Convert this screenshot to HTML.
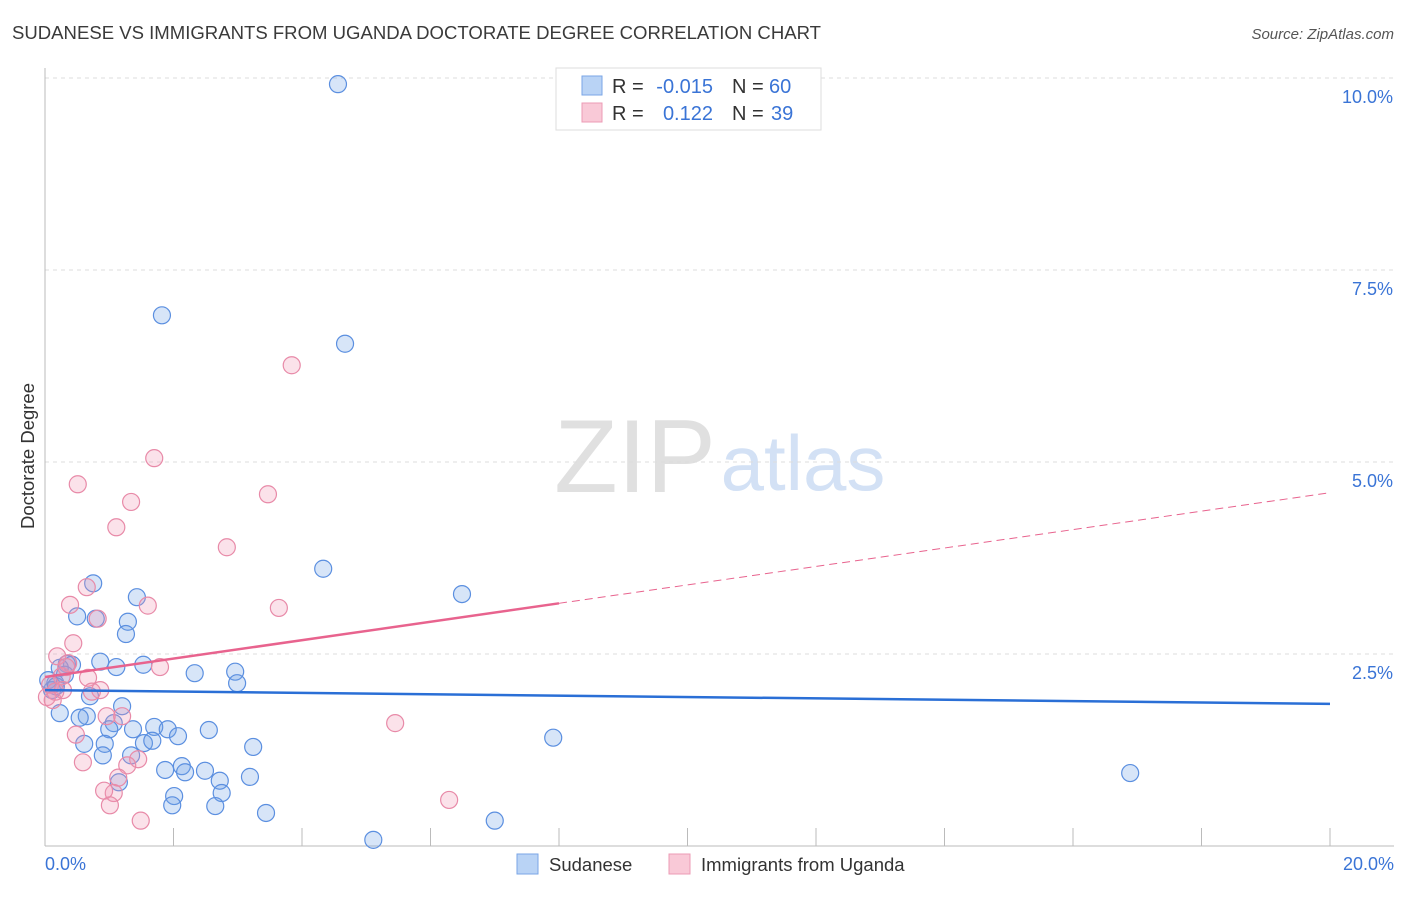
<!DOCTYPE html>
<html><head><meta charset="utf-8">
<style>
body{margin:0;background:#fff;font-family:"Liberation Sans",sans-serif;}
svg text{font-family:"Liberation Sans",sans-serif;}
</style></head>
<body>
<svg id="chart" width="1406" height="892" viewBox="0 0 1406 892" xmlns="http://www.w3.org/2000/svg">
<text x="12" y="39" font-size="18" fill="#3a3a3a" textLength="809" lengthAdjust="spacingAndGlyphs">SUDANESE VS IMMIGRANTS FROM UGANDA DOCTORATE DEGREE CORRELATION CHART</text>
<text x="1394" y="39" font-size="15" fill="#555" text-anchor="end" font-style="italic">Source: ZipAtlas.com</text>
<g>
<text x="635" y="492" font-size="104" fill="#e0e0e0" text-anchor="middle" font-family="Liberation Serif, serif">ZIP</text>
<text x="803" y="490" font-size="78" fill="#d3e1f5" text-anchor="middle">atlas</text>
</g>
<g id="grid"></g>
<g id="axes"></g>
<g id="marks"></g>
<g font-size="20">
<rect x="556" y="68" width="265" height="62" fill="#fff" stroke="#ddd"/>
<rect x="582" y="76" width="20" height="19" fill="#b9d3f5" stroke="#7aa6e6"/>
<rect x="582" y="103" width="20" height="19" fill="#f9c9d7" stroke="#ec9bb5"/>
<text x="612" y="93" fill="#333">R =</text>
<text x="713" y="93" fill="#3a74d6" text-anchor="end">-0.015</text>
<text x="732" y="93" fill="#333">N =</text>
<text x="769" y="93" fill="#3a74d6">60</text>
<text x="612" y="120" fill="#333">R =</text>
<text x="713" y="120" fill="#3a74d6" text-anchor="end">0.122</text>
<text x="732" y="120" fill="#333">N =</text>
<text x="771" y="120" fill="#3a74d6">39</text>
</g>
<g>
<rect x="517" y="854" width="21" height="20" fill="#b9d3f5" stroke="#7aa6e6"/>
<text x="549" y="871" font-size="18.5" fill="#333">Sudanese</text>
<rect x="669" y="854" width="21" height="20" fill="#f9c9d7" stroke="#ec9bb5"/>
<text x="701" y="871" font-size="18.5" fill="#333">Immigrants from Uganda</text>
</g>
<text transform="translate(34,456) rotate(-90)" font-size="18.5" fill="#333" text-anchor="middle">Doctorate Degree</text>
</svg>
<script>
const yTicks=[2.5,5.0,7.5,10.0];
const yTickLabels=["2.5%","5.0%","7.5%","10.0%"];
const xTickLabels=["0.0%","20.0%"];
const sudX=[4.56,1.82,4.67,4.33,6.49,0.75,1.43,0.50,0.79,1.29,1.26,0.34,0.42,0.86,1.11,1.53,2.33,2.96,2.99,0.16,0.11,0.70,1.20,0.23,0.65,0.54,1.07,1.00,1.37,1.70,1.91,2.07,2.55,7.91,0.61,0.93,1.54,1.67,3.24,0.90,1.34,1.87,2.13,2.18,2.49,2.72,3.19,2.75,1.15,2.01,1.98,2.65,3.44,5.11,7.00,16.89,0.23,0.05,0.31,0.17];
const sudY=[9.92,6.91,6.54,3.61,3.28,3.42,3.24,2.99,2.96,2.92,2.76,2.37,2.36,2.40,2.33,2.36,2.25,2.27,2.12,2.12,2.03,1.95,1.82,1.73,1.69,1.67,1.60,1.52,1.52,1.55,1.52,1.43,1.51,1.41,1.33,1.33,1.34,1.37,1.29,1.18,1.18,0.99,1.04,0.96,0.98,0.85,0.90,0.69,0.83,0.65,0.53,0.52,0.43,0.08,0.33,0.95,2.32,2.16,2.23,2.08];
const ugX=[3.84,1.70,0.51,3.47,1.34,1.11,2.83,0.65,0.39,1.60,0.82,3.64,0.44,0.19,0.36,1.79,0.67,0.26,0.08,0.86,0.73,0.03,0.16,0.33,1.20,0.96,5.45,0.48,0.59,1.45,1.28,1.14,1.07,0.92,1.01,6.29,1.49,0.12,0.28];
const ugY=[6.26,5.05,4.71,4.58,4.48,4.15,3.89,3.37,3.14,3.13,2.96,3.10,2.64,2.47,2.38,2.33,2.19,2.21,2.10,2.03,2.01,1.94,2.01,2.33,1.69,1.69,1.60,1.45,1.09,1.13,1.05,0.89,0.69,0.72,0.53,0.60,0.33,1.90,2.03];
const sudTrend=[2.03,1.85];
const ugTrend=[2.20,4.60];
const ugSolidEnd=8.0;

const NS="http://www.w3.org/2000/svg";
const X0=45,X1=1330,Y0=846,Y1=78;
const xs=v=>X0+(v/20)*(X1-X0);
const ys=v=>Y0-(v/10)*(Y0-Y1);
function mk(tag,attrs,parent){const e=document.createElementNS(NS,tag);for(const k in attrs)e.setAttribute(k,attrs[k]);parent.appendChild(e);return e;}
const grid=document.getElementById('grid'),axes=document.getElementById('axes'),marks=document.getElementById('marks');
yTicks.forEach((t,i)=>{
  const l=mk('line',{x1:X0,x2:1394,y1:ys(t),y2:ys(t),stroke:'#ddd','stroke-dasharray':'4,4'},grid);
  
  
  const tx=mk('text',{x:1393,y:ys(t)+25,'font-size':18,fill:'#3a74d6','text-anchor':'end'},grid);
  tx.textContent=yTickLabels[i];
  
  
});
const ya=mk('line',{x1:X0,x2:X0,y1:68,y2:Y0,stroke:'#bbb'},axes);


const xa=mk('line',{x1:X0,x2:1394,y1:Y0,y2:Y0,stroke:'#bbb'},axes);


for(let i=1;i<=10;i++){
  const t=mk('line',{x1:xs(i*2),x2:xs(i*2),y1:828,y2:Y0,stroke:'#bbb'},axes);
  
  
}
[[0,'start',45],[20,'end',1394]].forEach((d,i)=>{
  const tx=mk('text',{x:d[2],y:870,'font-size':18,fill:'#3a74d6','text-anchor':d[1]},axes);
  tx.textContent=xTickLabels[i];
  
  
});
sudX.forEach((x,i)=>{
  const c=mk('circle',{cx:xs(x),cy:ys(sudY[i]),r:8.5,fill:'rgba(110,160,230,0.28)',stroke:'#5b8fe0','stroke-width':1.2},marks);
  
  
});
ugX.forEach((x,i)=>{
  const c=mk('circle',{cx:xs(x),cy:ys(ugY[i]),r:8.5,fill:'rgba(240,150,180,0.28)',stroke:'#e88aa8','stroke-width':1.2},marks);
  
  
});
const bt=mk('line',{x1:xs(0),x2:xs(20),y1:ys(sudTrend[0]),y2:ys(sudTrend[1]),stroke:'#2a6fd6','stroke-width':2.5},marks);


const ugAt=v=>ugTrend[0]+(ugTrend[1]-ugTrend[0])*v/20;
const pt=mk('line',{x1:xs(0),x2:xs(ugSolidEnd),y1:ys(ugTrend[0]),y2:ys(ugAt(ugSolidEnd)),stroke:'#e8638e','stroke-width':2.5},marks);


const pd=mk('line',{x1:xs(ugSolidEnd),x2:xs(20),y1:ys(ugAt(ugSolidEnd)),y2:ys(ugTrend[1]),stroke:'#e8638e','stroke-width':1,'stroke-dasharray':'8,5'},marks);


</script>
</body></html>
